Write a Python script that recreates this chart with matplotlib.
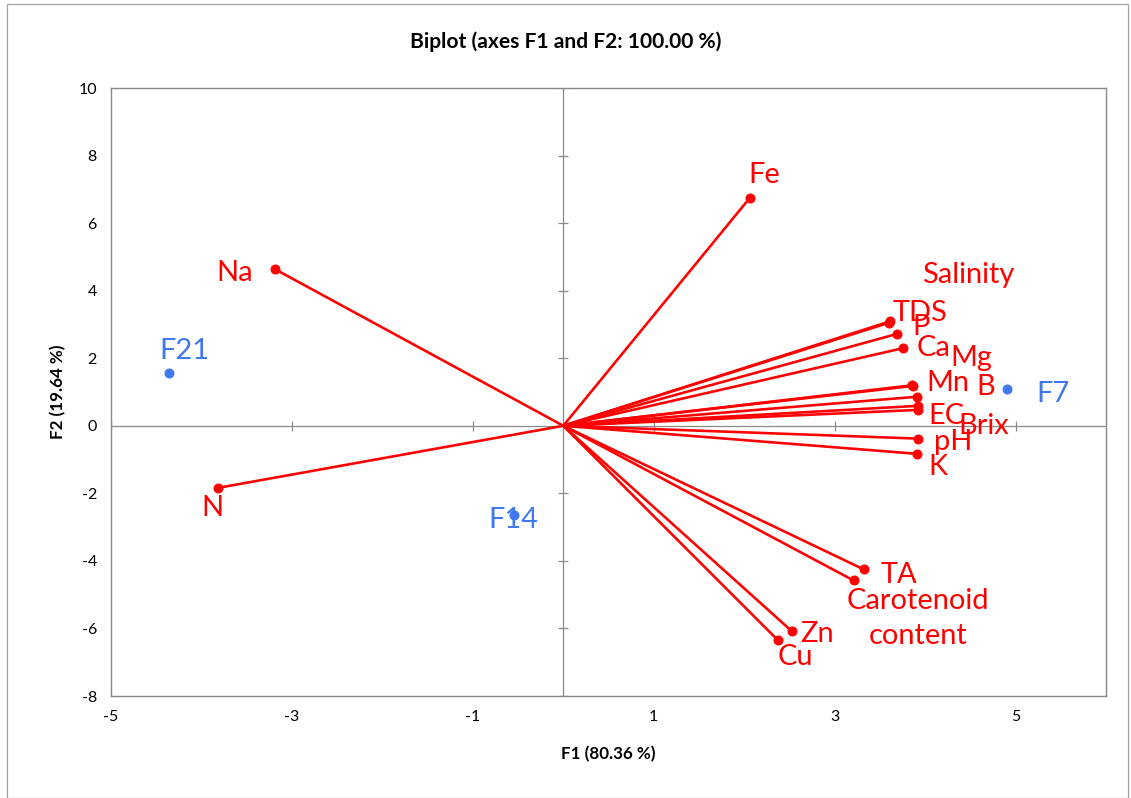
import matplotlib
matplotlib.use("Agg")
import matplotlib.pyplot as plt
from matplotlib.patches import Rectangle

plt.rcParams["axes.unicode_minus"] = False

# ---- data ----
var_names = ["Fe", "Na", "N", "Salinity", "TDS", "P", "Ca", "Mg", "Mn", "B",
             "EC", "Brix", "pH", "K", "TA", "Carotenoid\ncontent", "Zn", "Cu"]
var_f1 = [2.06, -3.19, -3.82, 3.60, 3.61, 3.69, 3.76, 3.86, 3.87, 3.91,
          3.92, 3.92, 3.92, 3.91, 3.32, 3.21, 2.53, 2.37]
var_f2 = [6.74, 4.64, -1.84, 3.05, 3.09, 2.72, 2.30, 1.20, 1.18, 0.86,
          0.59, 0.47, -0.38, -0.83, -4.25, -4.58, -6.09, -6.34]

obs_names = ["F21", "F14", "F7"]
obs_f1 = [-4.36, -0.55, 4.90]
obs_f2 = [1.55, -2.64, 1.09]

x_ticks = [-5, -3, -1, 1, 3, 5]
y_ticks = [-8, -6, -4, -2, 0, 2, 4, 6, 8, 10]

# label placement (offsets in points, alignment)
var_label_style = {
    "Fe": ((15, 23), "center"),
    "Na": ((-22, -4), "right"),
    "N": ((-5, -20), "center"),
    "Salinity": ((33, 48), "left"),
    "TDS": ((3, 8), "left"),
    "P": ((15, 7), "left"),
    "Ca": ((13, 0), "left"),
    "Mg": ((38, 27), "left"),
    "Mn": ((13, 3), "left"),
    "B": ((59, 10), "left"),
    "EC": ((11, -10), "left"),
    "Brix": ((41, -16), "left"),
    "pH": ((16, -3), "left"),
    "K": ((11, -13), "left"),
    "TA": ((17, -6), "left"),
    "Carotenoid\ncontent": ((64, -38), "center"),
    "Zn": ((8, -3), "left"),
    "Cu": ((0, -17), "left"),
}
obs_label_style = {
    "F21": ((15, 22), "center"),
    "F14": ((0, -5), "center"),
    "F7": ((30, -5), "left"),
}

RED = "#FF0000"
BLUE = "#3F78F0"
GRAY = "#898989"
FONT = "Lato"
LABEL_SIZE = 29

DPI = 72
fig = plt.figure(figsize=(1131 / DPI, 798 / DPI), dpi=DPI)
fig.patches.append(Rectangle((7 / 1131, 0), 1121 / 1131, 794 / 798,
                             transform=fig.transFigure, fill=False,
                             edgecolor="#A0A0A0", linewidth=1.2))
ax = fig.add_axes([111 / 1131, 1 - 696 / 798, 995 / 1131, 608 / 798])

ax.set_xlim(-5, 6)
ax.set_ylim(-8, 10)

# zero lines
ax.axhline(0, color=GRAY, lw=1.2, zorder=1)
ax.axvline(0, color=GRAY, lw=1.2, zorder=1)
# tick marks across zero lines
ax.plot(x_ticks, [0] * len(x_ticks), linestyle="none", marker="|",
        markersize=10, markeredgewidth=1.2, color=GRAY, zorder=1)
ax.plot([0] * len(y_ticks), y_ticks, linestyle="none", marker="_",
        markersize=10, markeredgewidth=1.2, color=GRAY, zorder=1)

# vectors
for name, x, y in zip(var_names, var_f1, var_f2):
    ax.plot([0, x], [0, y], color=RED, lw=2.6, zorder=3,
            solid_capstyle="round")
    ax.plot([x], [y], marker="o", markersize=9, color=RED, zorder=4)
    (dx, dy), ha = var_label_style[name]
    ax.annotate(name, (x, y), xytext=(dx, dy), textcoords="offset points",
                ha=ha, va="center", color=RED, fontsize=LABEL_SIZE,
                family=FONT, multialignment="center", linespacing=1.45,
                zorder=5)

# observations
ax.plot(obs_f1, obs_f2, linestyle="none", marker="o", markersize=9,
        color=BLUE, zorder=4)
for name, x, y in zip(obs_names, obs_f1, obs_f2):
    (dx, dy), ha = obs_label_style[name]
    ax.annotate(name, (x, y), xytext=(dx, dy), textcoords="offset points",
                ha=ha, va="center", color=BLUE, fontsize=LABEL_SIZE,
                family=FONT, zorder=5)

ax.set_xticks(x_ticks)
ax.set_yticks(y_ticks)
ax.tick_params(length=0, labelsize=16, pad=14, labelcolor="black")
for lab in ax.get_xticklabels() + ax.get_yticklabels():
    lab.set_family(FONT)
for s in ax.spines.values():
    s.set_color(GRAY)
    s.set_linewidth(1.4)

ax.set_xlabel("F1 (80.36 %)", fontsize=17, fontweight="bold", family=FONT,
              labelpad=22)
ax.set_ylabel("F2 (19.64 %)", fontsize=17, fontweight="bold", family=FONT,
              labelpad=12)
fig.text(0.5, 1 - 42 / 798, "Biplot (axes F1 and F2: 100.00 %)",
         fontsize=21, fontweight="bold", family=FONT,
         ha="center", va="center")

fig.savefig("out.png", dpi=DPI)
